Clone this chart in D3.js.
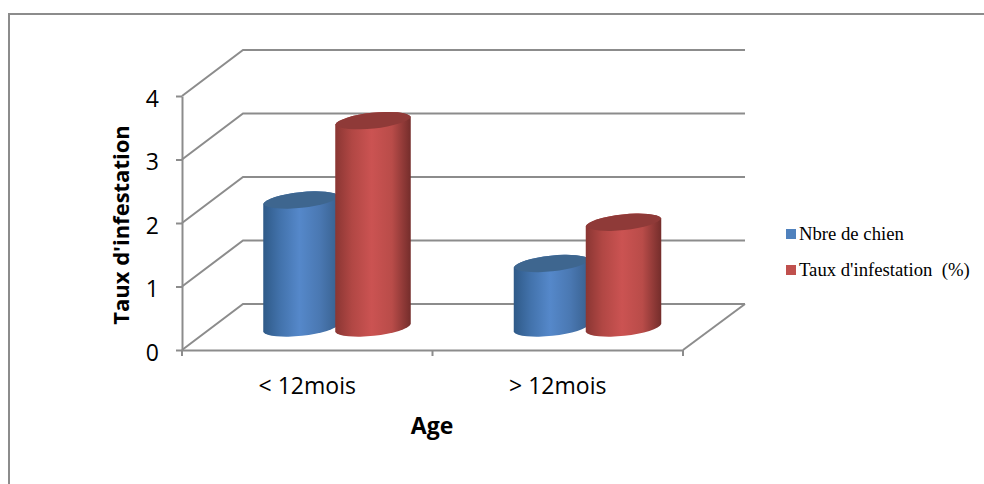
<!DOCTYPE html>
<html>
<head>
<meta charset="utf-8">
<script src="https://cdn.jsdelivr.net/npm/d3@7"></script>
<style>
  body { margin: 0; background: #fff; }
  .axis text { font-family: "Open Sans", sans-serif; fill: #000; }
  .axis .domain, .axis line { stroke: #8c8c8c; stroke-width: 2px; }
</style>
</head>
<body>
<svg id="chart"></svg>
<script>
const categories = ["< 12mois", "> 12mois"];
const seriesNames = ["Nbre de chien", "Taux d'infestation  (%)"];
const nbreChien = [2, 1];
const tauxInfestation = [3.25, 1.65];
const yTicks = [0, 1, 2, 3, 4];
const series = [nbreChien, tauxInfestation];

const width = 984, height = 484;
const colors = [
  {id: "blue", side: ["#2f5a88", "#4272ab", "#5588ca", "#4a78b2", "#38608e"], top: "#3e668f", legend: "#4f81bd"},
  {id: "red", side: ["#8a3633", "#b14744", "#cb5352", "#b94c49", "#742d2b"], top: "#8f3a38", legend: "#c0504d"}
];

// plot box of the front plane, and how far the back wall is pushed
const plot = {left: 182, right: 683, top: 96, bottom: 350};
const depth = {x: 61, y: -46};
const groupWidth = 144;

const svg = d3.select("#chart").attr("width", width).attr("height", height);

const xScale = d3.scaleBand().domain(categories).range([plot.left, plot.right]);
const xInner = d3.scaleBand().domain(d3.range(series.length))
    .range([(xScale.bandwidth() - groupWidth) / 2, (xScale.bandwidth() + groupWidth) / 2]);
const yScale = d3.scaleLinear().domain([0, 4]).range([plot.bottom, plot.top]);

// chart frame, only top and left sides are in the picture
svg.append("path")
    .attr("d", `M9,${height} V14 H${width}`)
    .attr("fill", "none")
    .attr("stroke", "#8c8c8c")
    .attr("stroke-width", 2);

const defs = svg.append("defs");
colors.forEach(c => {
  const grad = defs.append("linearGradient").attr("id", "grad-" + c.id);
  [0, 0.22, 0.48, 0.75, 1].forEach((o, i) => {
    grad.append("stop").attr("offset", o).attr("stop-color", c.side[i]);
  });
});

// gridlines on side and back wall
const gridPath = d3.line();
svg.append("g").selectAll("path")
    .data(yTicks)
  .join("path")
    .attr("fill", "none")
    .attr("stroke", "#8c8c8c")
    .attr("stroke-width", 2)
    .attr("d", d => gridPath([
      [plot.left, yScale(d)],
      [plot.left + depth.x, yScale(d) + depth.y],
      [plot.right + depth.x + 1, yScale(d) + depth.y]
    ]));

// right edge of the floor
svg.append("path")
    .attr("fill", "none")
    .attr("stroke", "#8c8c8c")
    .attr("stroke-width", 2)
    .attr("d", gridPath([
      [plot.right, yScale(0)],
      [plot.right + depth.x + 1, yScale(0) + depth.y]
    ]));

// axes
const yAxis = d3.axisLeft(yScale)
    .tickValues(yTicks)
    .tickFormat(d3.format("d"))
    .tickSize(6)
    .tickSizeOuter(0)
    .tickPadding(17);
const xAxis = d3.axisBottom(xScale).tickSize(0).tickPadding(28);

const yAxisG = svg.append("g")
    .attr("class", "axis y-axis")
    .attr("transform", `translate(${plot.left},0)`)
    .call(yAxis);
yAxisG.selectAll("text").attr("dy", "0.45em").style("font-size", "23px");

const xAxisG = svg.append("g")
    .attr("class", "axis x-axis")
    .attr("transform", `translate(0,${plot.bottom})`)
    .call(xAxis);
xAxisG.selectAll("text").style("font-size", "23px");

// tick marks sit on the category boundaries
xAxisG.selectAll(".edge")
    .data([...categories.map(c => xScale(c)), plot.right])
  .join("line")
    .attr("class", "edge")
    .attr("x1", d => d).attr("x2", d => d)
    .attr("y1", 0).attr("y2", 6);

// cylinders, series drawn left to right so the red one overlaps the blue
const tilt = -6, ry = 9;
const rise = 8; // right side of the ellipse sits higher than the left
const nudge = -2.5;

categories.forEach((cat, i) => {
  series.forEach((values, s) => {
    const c = colors[s];
    const x0 = xScale(cat) + xInner(s) + depth.x / 2 + nudge;
    const x1 = x0 + xInner.bandwidth() + 3.5;
    const rx = (x1 - x0) / 2 + 0.5;
    const base = yScale(0) + depth.y / 2 + rise / 2 + 1;
    const top = yScale(values[i]) + depth.y / 2 + rise / 2;
    const arc = (dir, xEnd, yEnd) => `A${rx},${ry} ${tilt} 0 ${dir} ${xEnd},${yEnd}`;

    const g = svg.append("g").attr("class", "cylinder");
    g.append("path")
        .attr("fill", `url(#grad-${c.id})`)
        .attr("d", `M${x0},${top} V${base} ${arc(0, x1, base - rise)} V${top - rise} ${arc(0, x0, top)} Z`);
    g.append("path")
        .attr("fill", c.top)
        .attr("d", `M${x0},${top} ${arc(1, x1, top - rise)} ${arc(1, x0, top)} Z`);
  });
});

// axis titles
svg.append("text")
    .attr("transform", "translate(129,225) rotate(-90)")
    .attr("text-anchor", "middle")
    .style("font-family", '"Open Sans", sans-serif')
    .style("font-weight", "bold")
    .style("font-size", "22px")
    .text("Taux d'infestation");

svg.append("text")
    .attr("x", 432)
    .attr("y", 434)
    .attr("text-anchor", "middle")
    .style("font-family", '"Open Sans", sans-serif')
    .style("font-weight", "bold")
    .style("font-size", "23px")
    .text("Age");

// legend
const legendY = d3.scalePoint().domain(seriesNames).range([234, 270]);
const legend = svg.append("g").selectAll("g")
    .data(seriesNames)
  .join("g")
    .attr("transform", d => `translate(786,${legendY(d)})`);
legend.append("rect")
    .attr("y", -5)
    .attr("width", 10)
    .attr("height", 10)
    .attr("fill", (d, i) => colors[i].legend);
legend.append("text")
    .attr("x", 13)
    .attr("y", 6)
    .style("font-family", '"Liberation Serif", serif')
    .style("font-size", "18.7px")
    .style("white-space", "pre")
    .text(d => d);
</script>
</body>
</html>
